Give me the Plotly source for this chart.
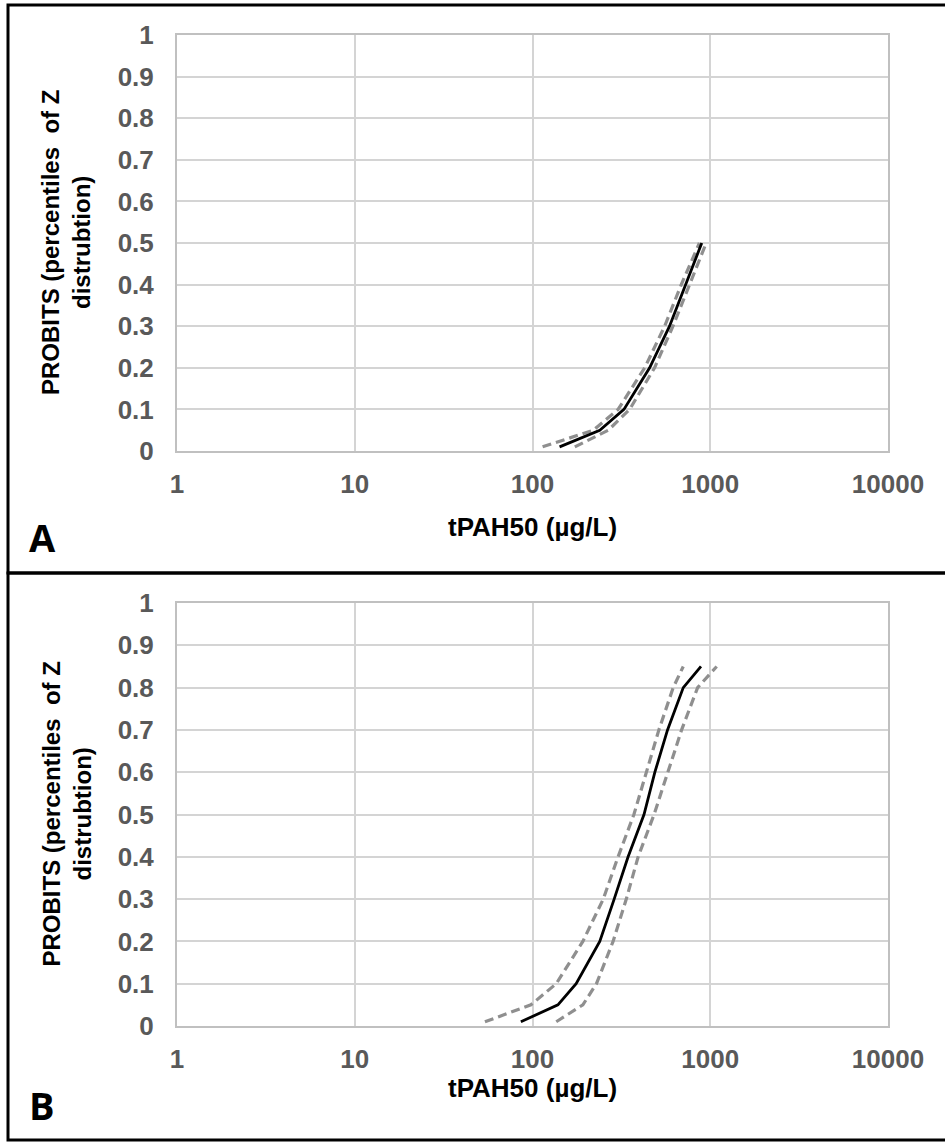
import plotly.graph_objects as go

# ---------------- data ----------------
x_tickvals = [1, 10, 100, 1000, 10000]
x_ticktext = ["1", "10", "100", "1000", "10000"]
y_tickvals = [0, 0.1, 0.2, 0.3, 0.4, 0.5, 0.6, 0.7, 0.8, 0.9, 1]
y_ticktext = ["0", "0.1", "0.2", "0.3", "0.4", "0.5", "0.6", "0.7", "0.8", "0.9", "1"]

probits_A = [0.01, 0.05, 0.1, 0.2, 0.3, 0.4, 0.5]
A_median = [142, 239, 327, 456, 590, 726, 896]
A_lower = [114, 220, 303, 428, 554, 687, 869]
A_upper = [173, 267, 352, 486, 617, 764, 949]

probits_B = [0.01, 0.05, 0.1, 0.2, 0.3, 0.4, 0.5, 0.6, 0.7, 0.8, 0.85]
B_median = [86, 139, 176, 239, 288, 345, 424, 488, 575, 705, 887]
B_lower = [54, 98, 136, 192, 250, 303, 372, 438, 514, 619, 705]
B_upper = [136, 192, 229, 284, 337, 393, 483, 580, 690, 849, 1087]

panel_labels = ["A", "B"]
x_title = "tPAH50 (µg/L)"
y_title = "PROBITS (percentiles\u00a0 of Z<br>distrubtion)"

# ---------------- figure ----------------
W, H = 945, 1143
FONT = "Liberation Sans, Arial, sans-serif"
GRID = "#d4d4d4"
TICKC = "#595959"

fig = go.Figure()

def add_panel(xs, ys_med, ys_lo, ys_hi, xa, ya):
    for vals, color, dash, width in [(ys_lo, "#8f8f8f", "9px,5px", 3.2),
                                     (ys_hi, "#8f8f8f", "9px,5px", 3.2),
                                     (ys_med, "black", "solid", 2.8)]:
        fig.add_trace(go.Scatter(x=vals, y=xs, mode="lines",
                                 line=dict(color=color, dash=dash, width=width),
                                 xaxis=xa, yaxis=ya, showlegend=False,
                                 hoverinfo="skip"))

add_panel(probits_A, A_median, A_lower, A_upper, "x", "y")
add_panel(probits_B, B_median, B_lower, B_upper, "x2", "y2")

def px_x(p):
    return p / W

def px_y(p):
    return 1 - p / H

xdom = [px_x(177), px_x(888)]
ydomA = [px_y(451), px_y(35)]
ydomB = [px_y(1026), px_y(603)]

xaxis_common = dict(type="log", range=[0, 4], tickvals=x_tickvals, ticktext=x_ticktext,
                    showgrid=True, gridcolor=GRID, gridwidth=2,
                    showline=True, linecolor="#c0c0c0", linewidth=2, mirror=True,
                    ticks="", zeroline=False, ticklabelstandoff=9, automargin=False,
                    tickfont=dict(family=FONT, size=26, color=TICKC, weight="bold"),
                    domain=xdom)
yaxis_common = dict(range=[0, 1], tickvals=y_tickvals, ticktext=y_ticktext,
                    showgrid=True, gridcolor=GRID, gridwidth=2,
                    showline=True, linecolor="#c0c0c0", linewidth=2, mirror=True,
                    ticks="", zeroline=False, ticklabelstandoff=16, automargin=False,
                    tickfont=dict(family=FONT, size=26, color=TICKC, weight="bold"))

fig.update_layout(
    width=W, height=H, autosize=False,
    margin=dict(l=0, r=0, t=0, b=0, pad=0),
    paper_bgcolor="white", plot_bgcolor="white",
    xaxis=dict(xaxis_common, anchor="y"),
    yaxis=dict(yaxis_common, domain=ydomA, anchor="x"),
    xaxis2=dict(xaxis_common, anchor="y2"),
    yaxis2=dict(yaxis_common, domain=ydomB, anchor="x2"),
)

# y-axis titles (two-line, rotated)
for dom in (ydomA, ydomB):
    fig.add_annotation(text="<b>" + y_title + "</b>", textangle=-90,
                       xref="paper", yref="paper", x=px_x(66), y=(dom[0] + dom[1]) / 2,
                       xanchor="center", yanchor="middle", showarrow=False,
                       font=dict(family=FONT, size=24, color="black"))

# x-axis titles
for yc in (527, 1088):
    fig.add_annotation(text="<b>" + x_title + "</b>", xref="paper", yref="paper",
                       x=(xdom[0] + xdom[1]) / 2, y=px_y(yc), xanchor="center", yanchor="middle",
                       showarrow=False, font=dict(family=FONT, size=26, color="black"))

# panel letters
for lab, yc in zip(panel_labels, [537, 1105]):
    fig.add_annotation(text="<b>" + lab + "</b>", xref="paper", yref="paper",
                       x=px_x(42), y=px_y(yc), xanchor="center", yanchor="middle",
                       showarrow=False, font=dict(family="Open Sans, Liberation Sans", size=38, color="black"))

# panel frames
for (t, b) in [(5, 573), (573, 1140)]:
    fig.add_shape(type="rect", xref="paper", yref="paper",
                  x0=px_x(8), x1=px_x(970), y0=px_y(b), y1=px_y(t),
                  line=dict(color="black", width=3), fillcolor="rgba(0,0,0,0)")

fig.write_html("out.html", config={"displayModeBar": False},
               post_script="document.body.style.margin='0';document.body.style.overflow='hidden';")
